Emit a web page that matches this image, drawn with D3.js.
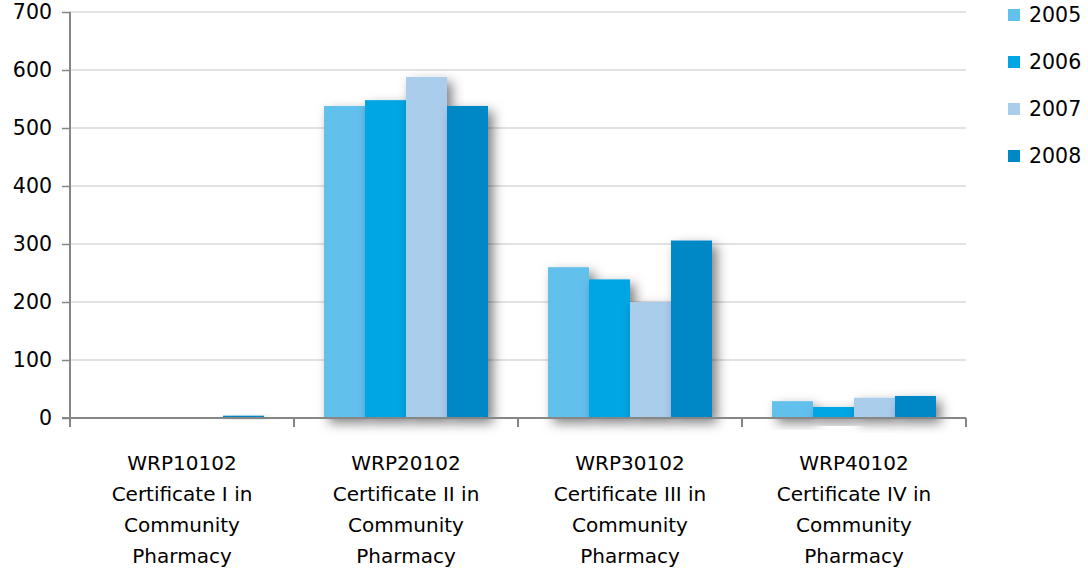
<!DOCTYPE html>
<html>
<head>
<meta charset="utf-8">
<script src="https://cdn.jsdelivr.net/npm/d3@7"></script>
<style>
  html, body { margin: 0; padding: 0; background: #fff; }
  svg { display: block; font-family: "DejaVu Sans", sans-serif; }
</style>
</head>
<body>
<svg id="chart" width="1088" height="568"></svg>
<script>
const categories = [
  ['WRP10102', 'Certificate I in', 'Community', 'Pharmacy'],
  ['WRP20102', 'Certificate II in', 'Community', 'Pharmacy'],
  ['WRP30102', 'Certificate III in', 'Community', 'Pharmacy'],
  ['WRP40102', 'Certificate IV in', 'Community', 'Pharmacy']
];
const years = ['2005', '2006', '2007', '2008'];
const values2005 = [0, 538, 260, 29];
const values2006 = [0, 548, 239, 19];
const values2007 = [0, 588, 200, 35];
const values2008 = [4, 538, 306, 38];
const yTicks = [0, 100, 200, 300, 400, 500, 600, 700];
const colors = ['#62c0ec', '#00a5e3', '#abcdec', '#0088c6'];

const series = [values2005, values2006, values2007, values2008];

const svg = d3.select('#chart');
const padLeft = 70, plotRight = 966, plotTop = 12, plotBottom = 418;

const x0 = d3.scaleBand()
  .domain(d3.range(categories.length))
  .range([padLeft, plotRight])
  .paddingInner(0.268)
  .paddingOuter(0.134);
const x1 = d3.scaleBand()
  .domain(d3.range(years.length))
  .range([0, x0.bandwidth()]);
const y = d3.scaleLinear().domain([0, 700]).range([plotBottom, plotTop]);

const defs = svg.append('defs');
const f = defs.append('filter').attr('id', 'shadow')
  .attr('x', '-50%').attr('y', '-50%').attr('width', '220%').attr('height', '220%');
f.append('feDropShadow')
  .attr('dx', 5).attr('dy', 5).attr('stdDeviation', 6)
  .attr('flood-color', '#000').attr('flood-opacity', 0.5);

// gridlines
svg.append('g').selectAll('line')
  .data(yTicks.filter(d => d > 0))
  .join('line')
  .attr('x1', padLeft).attr('x2', plotRight)
  .attr('y1', d => y(d)).attr('y2', d => y(d))
  .attr('stroke', '#d9d9d9').attr('stroke-width', 1.5);

// bars, series by series
series.forEach((vals, s) => {
  svg.append('g')
    .selectAll('rect')
    .data(vals)
    .join('rect')
    .attr('x', (d, i) => x0(i) + x1(s))
    .attr('width', x1.bandwidth())
    .attr('y', d => y(d))
    .attr('height', d => y(0) - y(d))
    .attr('fill', colors[s])
    .attr('filter', d => d > 0 ? 'url(#shadow)' : null);
});

// y axis
const yAxis = svg.append('g')
  .attr('transform', `translate(${padLeft},0)`)
  .call(d3.axisLeft(y).tickValues(yTicks).tickSize(8).tickPadding(10).tickSizeOuter(0));
yAxis.select('.domain').attr('stroke', '#868686').attr('stroke-width', 2)
  .attr('d', `M0,${plotTop}V${plotBottom + 9}`);
yAxis.selectAll('.tick line').attr('stroke', '#868686').attr('stroke-width', 1.5);
yAxis.selectAll('.tick text')
  .attr('font-family', '"DejaVu Sans", sans-serif')
  .attr('font-size', 20.5).attr('fill', '#000');

// x axis
svg.append('line')
  .attr('x1', padLeft - 8).attr('x2', plotRight)
  .attr('y1', y(0)).attr('y2', y(0))
  .attr('stroke', '#868686').attr('stroke-width', 2);
const xTickPos = d3.range(categories.length + 1).map(i => padLeft + i * x0.step());
svg.append('g').selectAll('line')
  .data(xTickPos)
  .join('line')
  .attr('x1', d => d).attr('x2', d => d)
  .attr('y1', y(0)).attr('y2', y(0) + 9)
  .attr('stroke', '#868686').attr('stroke-width', 2);

// category labels
const labels = svg.append('g').selectAll('text')
  .data(categories)
  .join('text')
  .attr('text-anchor', 'middle')
  .attr('font-size', 20)
  .attr('fill', '#000');
labels.each(function(lines, i) {
  const cx = x0(i) + x0.bandwidth() / 2;
  d3.select(this).selectAll('tspan')
    .data(lines)
    .join('tspan')
    .attr('x', cx)
    .attr('y', (d, j) => 470 + j * 31)
    .text(d => d);
});

// legend
const legend = svg.append('g').attr('transform', 'translate(1008,0)');
years.forEach((yr, i) => {
  const cy = 15 + i * 47;
  legend.append('rect')
    .attr('x', 0).attr('y', cy - 6)
    .attr('width', 12).attr('height', 12)
    .attr('fill', colors[i]);
  legend.append('text')
    .attr('x', 21).attr('y', cy + 7)
    .attr('font-size', 20.5)
    .attr('fill', '#000')
    .text(yr);
});
</script>
</body>
</html>
